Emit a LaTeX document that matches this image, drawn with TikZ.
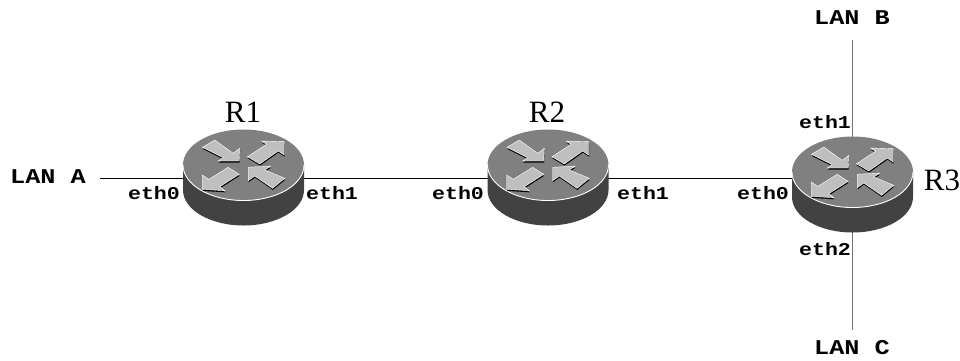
\documentclass[tikz,border=0pt]{standalone}
\usepackage{fontspec}
\setmainfont{Liberation Serif}
\setmonofont[FakeStretch=1.2]{Liberation Mono}
\definecolor{routertop}{gray}{0.5}
\definecolor{routerside}{gray}{0.26}
\definecolor{arrowfill}{gray}{0.75}
\tikzset{
  port/.style={font=\fontsize{18}{18}\selectfont\ttfamily\bfseries,inner sep=0pt},
  lan/.style={font=\fontsize{21}{21}\selectfont\ttfamily\bfseries,inner sep=0pt},
  routerlabel/.style={font=\fontsize{31}{31}\selectfont,inner sep=0pt,anchor=base},
  link/.style={line width=0.8pt,black},
  riser/.style={line width=1pt,black!55},
  flow/.style={fill=arrowfill,draw=white,line width=0.4pt,line join=miter},
  flowshadow/.style={fill=black,draw=none},
  router/.pic={
    \fill[routerside] (-60.5,0) -- (-60.5,25) arc[start angle=180,end angle=0,x radius=60.5,y radius=35.5] -- (60.5,0) -- cycle;
    \fill[routertop] (0,0) ellipse[x radius=60.5,y radius=35.5];
    \draw[white,line width=0.9pt] (-60.5,0) arc[start angle=180,end angle=0,x radius=60.5,y radius=35.5];
    \foreach \points in {
      {(-41,-17.7) -- (-28.7,-25) -- (-10.3,-11.7) -- (-3.7,-16.7) -- (-4.3,-4) -- (-25.3,-4) -- (-20.3,-7.3)},
      {(4,-8.3) -- (23,-20.7) -- (18,-24) -- (40.7,-23.3) -- (40.7,-10) -- (34.7,-14) -- (16.3,-1)},
      {(-15.3,2.3) -- (-4.3,9.3) -- (-23.7,21.7) -- (-18.7,25.7) -- (-41.3,24.3) -- (-41.3,10) -- (-34.7,14.3)},
      {(41.3,13.3) -- (29,23.3) -- (11.3,11) -- (4.7,15.7) -- (4.7,2.3) -- (27.3,1) -- (21.3,5)}}
    {
      \fill[flowshadow,shift={(0.3,1.6)}] \points -- cycle;
      \draw[flow] \points -- cycle;
    }
  }
}
\begin{document}
\begin{tikzpicture}[x=1pt,y=-1pt]
  \useasboundingbox (0,0) rectangle (960,360);
  % routers sit on the line through eth0
  \coordinate (r1) at (243.5,178);
  \coordinate (r2) at (548,178);
  \coordinate (r3) at (852.5,178);
  \coordinate (lanAend) at (100,178);
  \coordinate (lanBend) at (852.5,40);
  \coordinate (lanCend) at (852.5,330);
  % links first, routers go over them
  \draw[link] (lanAend) -- (r1);
  \draw[link] (r1) -- (r2);
  \draw[link] (r2) -- (r3);
  \draw[riser] (lanBend) -- (r3);
  \draw[riser] (r3) -- (lanCend);
  \pic at ([yshift=13pt]r1) {router};
  \pic at ([yshift=13pt]r2) {router};
  \pic at ([yshift=6pt]r3) {router};
  \node[routerlabel] (labelR1) at (243,122) {R1};
  \node[routerlabel] (labelR2) at (547,122) {R2};
  \node[routerlabel] (labelR3) at (942,190) {R3};
  \node[lan] (lanA) at (48,177) {LAN A};
  \node[lan] (lanB) at (852,18) {LAN B};
  \node[lan] (lanC) at (852,348) {LAN C};
  \node[port] (r1eth0) at (154,193) {eth0};
  \node[port] (r1eth1) at (332,193) {eth1};
  \node[port] (r2eth0) at (458,193) {eth0};
  \node[port] (r2eth1) at (643,193) {eth1};
  \node[port] (r3eth0) at (763,193) {eth0};
  \node[port] (r3eth1) at (825,122) {eth1};
  \node[port] (r3eth2) at (825,249) {eth2};
\end{tikzpicture}
\end{document}
